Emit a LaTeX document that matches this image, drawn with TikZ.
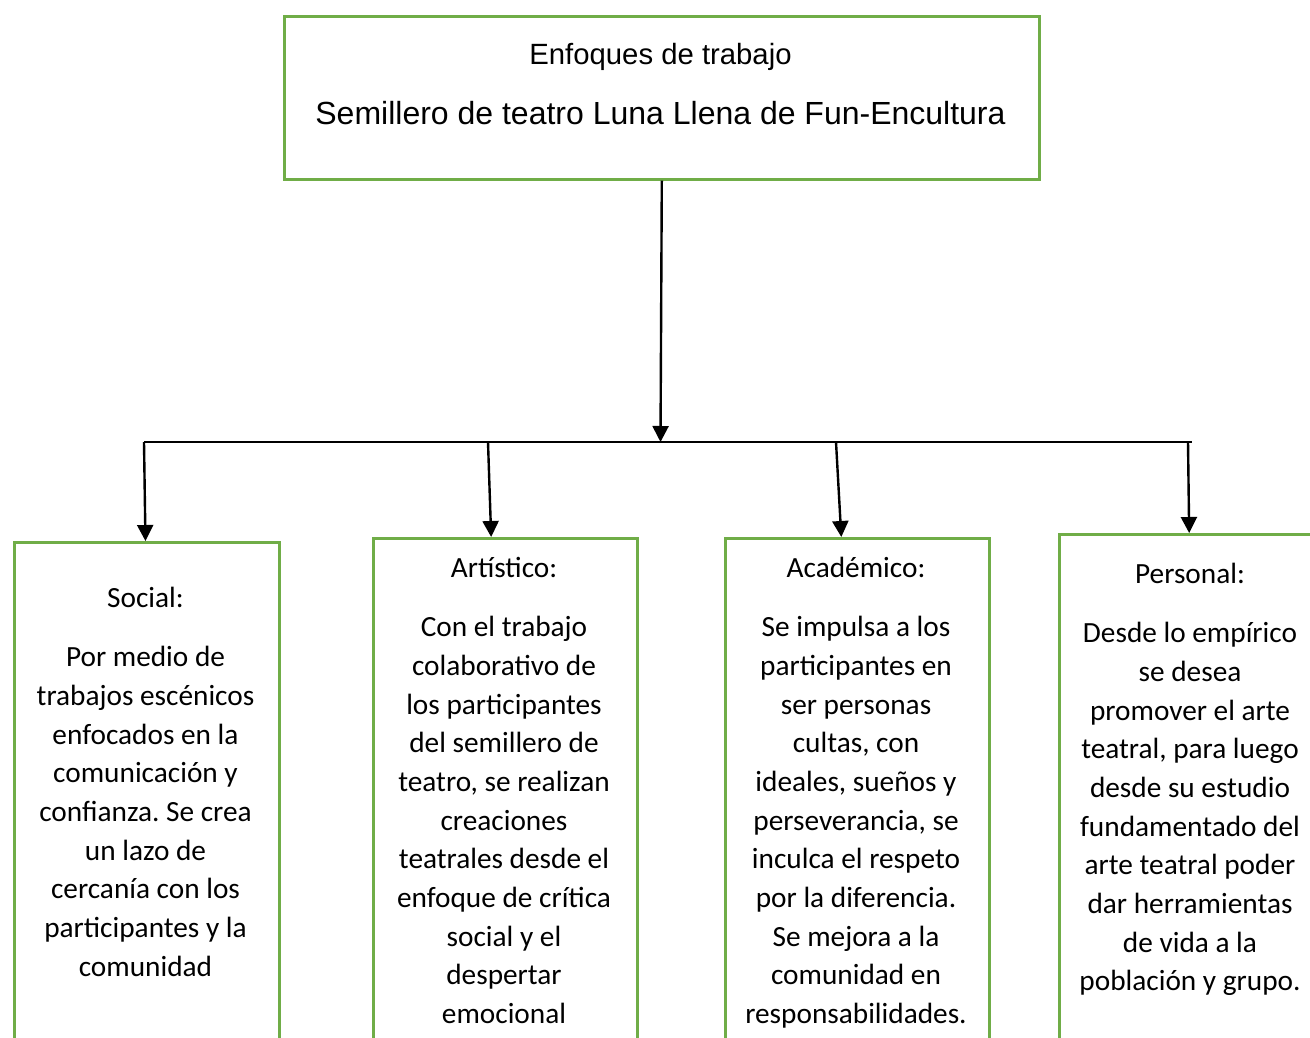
\documentclass[tikz,border=0pt]{standalone}
\usepackage{fontspec}
\setmainfont{Carlito}
\newfontfamily\arialfont{Liberation Sans}
\usetikzlibrary{arrows.meta,calc}
\definecolor{boxgreen}{HTML}{70AD47}
\frenchspacing
\begin{document}
\begin{tikzpicture}[x=1pt,y=-1pt,
  frame/.style={draw=boxgreen, line width=2.6pt, inner sep=0pt, anchor=north west},
  conn/.style={line width=2.4pt, -{Triangle[length=16pt,width=16pt]}},
  hline/.style={line width=1.7pt},
  body/.style={font=\fontsize{29.3}{38.7}\selectfont, align=flush center, text width=280pt, inner sep=0pt, anchor=north}]
\useasboundingbox (0,0) rectangle (1310,1038);
\clip (0,0) rectangle (1310,1038);
% top box
\node[frame, minimum width=755pt, minimum height=163pt] (top) at (283,15) {};
\node[font=\arialfont\fontsize{29.3}{35}\selectfont, anchor=base, inner sep=0pt] (t1) at (660.5,65) {Enfoques de trabajo};
\node[font=\arialfont\fontsize{32}{38}\selectfont, anchor=base, inner sep=0pt] (t2) at (660.5,125) {Semillero de teatro Luna Llena de Fun-Encultura};
% bottom boxes
\node[frame, minimum width=265pt, minimum height=600pt] (social) at (13,541) {};
\node[frame, minimum width=264pt, minimum height=600pt] (art) at (372,537) {};
\node[frame, minimum width=264pt, minimum height=600pt] (acad) at (724,537) {};
\node[frame, minimum width=264pt, minimum height=600pt] (pers) at (1058,533) {};
% connectors
\coordinate (hc) at (660.5,442);
\coordinate (h1) at (144,442);
\coordinate (h2) at (488,442);
\coordinate (h3) at (836,442);
\coordinate (h4) at (1188,442);
\coordinate (hr) at (1192,442);
\draw[hline] (h1) -- (hr);
\draw[conn] (top.south) -- (hc);
\draw[conn] (h1) -- ($(social.north west)!0.495!(social.north east)$);
\draw[conn] (h2) -- ($(art.north west)!0.447!(art.north east)$);
\draw[conn] (h3) -- ($(acad.north west)!0.44!(acad.north east)$);
\draw[conn] (h4) -- ($(pers.north west)!0.492!(pers.north east)$);
% texts
\node[body] (socialtxt) at (145.5,579.9) {\strut Social:\\[20.8pt]
Por medio de\\ trabajos escénicos\\ enfocados en la\\ comunicación y\\ confianza. Se crea\\ un lazo de\\ cercanía con los\\ participantes y la\\ comunidad\strut};
\node[body] (arttxt) at (504,549.9) {\strut Artístico:\\[20.8pt]
Con el trabajo\\ colaborativo de\\ los participantes\\ del semillero de\\ teatro, se realizan\\ creaciones\\ teatrales desde el\\ enfoque de crítica\\ social y el\\ despertar\\ emocional\strut};
\node[body] (acadtxt) at (856,549.9) {\strut Académico:\\[20.8pt]
Se impulsa a los\\ participantes en\\ ser personas\\ cultas, con\\ ideales, sueños y\\ perseverancia, se\\ inculca el respeto\\ por la diferencia.\\ Se mejora a la\\ comunidad en\\ responsabilidades.\strut};
\node[body] (perstxt) at (1190,555.9) {\strut Personal:\\[20.8pt]
Desde lo empírico\\ se desea\\ promover el arte\\ teatral, para luego\\ desde su estudio\\ fundamentado del\\ arte teatral poder\\ dar herramientas\\ de vida a la\\ población y grupo.\strut};
\end{tikzpicture}
\end{document}
